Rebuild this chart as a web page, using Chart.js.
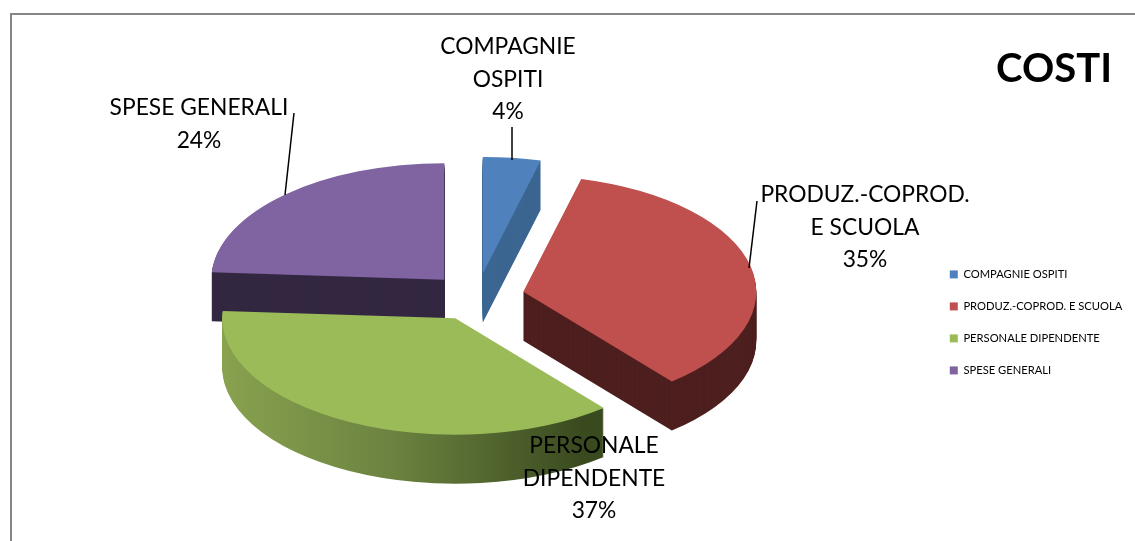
<!DOCTYPE html>
<html>
<head>
<meta charset="utf-8">
<script src="https://cdn.jsdelivr.net/npm/chart.js@4"></script>
<style>
	body { margin: 0; background: #fff; }
	#frame { position: absolute; left: 10px; top: 13px; right: 0; bottom: 0; border-left: 2px solid #868686; border-top: 2px solid #868686; }
	#chart { position: absolute; left: 0; top: 0; }
</style>
</head>
<body>
<div id="frame"></div>
<canvas id="chart" width="1135" height="541"></canvas>
<script>
const categories = ["COMPAGNIE OSPITI", "PRODUZ.-COPROD. E SCUOLA", "PERSONALE DIPENDENTE", "SPESE GENERALI"];
const costs = [4, 35, 37, 24];
const topColors = ["#4f81bd", "#c0504d", "#9bbb59", "#8064a2"];
const sideColors = ["#3b6691", "#4d1f1e", null, "#332741"];
const labelLines = [["COMPAGNIE", "OSPITI"], ["PRODUZ.-COPROD.", "E SCUOLA"], ["PERSONALE", "DIPENDENTE"], ["SPESE GENERALI"]];
const labelSpots = [[508, 47], [865, 195], [594, 446], [199, 108]];
const leaders = [[[512, 160], [512, 127]], [[749, 268], [757, 201]], null, [[285, 195], [294, 113]]];

const squash = 0.5;
const depth = 49;
const explode = 47.6;
const drawOrder = [3, 0, 1, 2];

const pie3d = {
	id: 'pie3d',
	afterLayout(chart) {
		const l = chart.legend;
		l.left = 929; l.right = 1135;
		l.top = 248; l.bottom = 420;
	},
	beforeDatasetDraw(chart, args) {
		const ctx = chart.ctx;
		const arcs = args.meta.data;
		const green = ctx.createLinearGradient(221, 0, 604, 0);
		green.addColorStop(0, "#8ca651");
		green.addColorStop(0.5, "#6c8340");
		green.addColorStop(1, "#3a4a1f");

		drawOrder.forEach(function (i) {
			const arc = arcs[i];
			const mid = (arc.startAngle + arc.endAngle) / 2;
			const side = Object.create(arc);
			side.options = Object.assign({}, arc.options, { backgroundColor: sideColors[i] || green });
			for (let d = depth; d >= 0; d--) {
				ctx.save();
				ctx.translate(0, arc.y + d);
				ctx.scale(1, squash);
				ctx.translate(Math.cos(mid) * explode, Math.sin(mid) * explode - arc.y);
				if (d > 0) side.draw(ctx); else arc.draw(ctx);
				ctx.restore();
			}
		});
		return false;
	},
	afterDatasetsDraw(chart) {
		const ctx = chart.ctx;
		ctx.save();
		ctx.strokeStyle = "#000";
		ctx.lineWidth = 1.5;
		leaders.forEach(function (l) {
			if (!l) return;
			ctx.beginPath();
			ctx.moveTo(l[0][0], l[0][1]);
			ctx.lineTo(l[1][0], l[1][1]);
			ctx.stroke();
		});
		ctx.fillStyle = "#000";
		ctx.font = "22.8px Lato";
		ctx.textAlign = "center";
		ctx.textBaseline = "middle";
		labelLines.forEach(function (lines, i) {
			const rows = lines.concat(costs[i] + "%");
			rows.forEach(function (t, r) {
				ctx.fillText(t, labelSpots[i][0], labelSpots[i][1] + r * 32.5);
			});
		});
		ctx.restore();
	}
};

new Chart(document.getElementById("chart"), {
	type: 'pie',
	data: {
		labels: categories,
		datasets: [{
			data: costs,
			backgroundColor: topColors,
			borderWidth: 0
		}]
	},
	options: {
		responsive: false,
		animation: false,
		radius: 233,
		layout: { padding: { left: 45, right: 23, top: 0, bottom: 40 } },
		plugins: {
			title: {
				display: true,
				text: "COSTI",
				align: 'end',
				color: "#000",
				font: { family: "Lato", size: 40, weight: 'bold' },
				padding: { top: 45, bottom: 0 }
			},
			legend: {
				position: 'right',
				align: 'start',
				labels: {
					boxWidth: 8,
					boxHeight: 8,
					padding: 20.8,
					color: "#000",
					font: { family: "Lato", size: 11.2 }
				}
			},
			tooltip: { enabled: false }
		}
	},
	plugins: [pie3d]
});
</script>
</body>
</html>
